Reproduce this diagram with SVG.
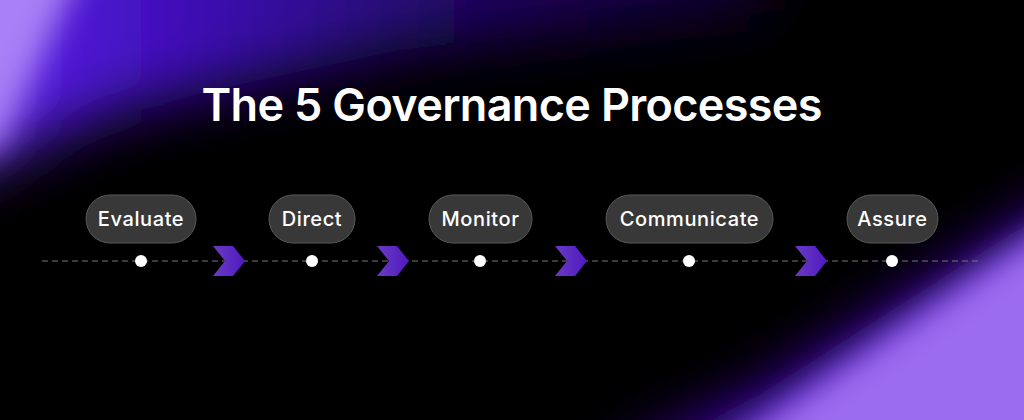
<svg xmlns="http://www.w3.org/2000/svg" width="1024" height="420" viewBox="0 0 1024 420">
<defs>
<filter id="blur" x="-50%" y="-50%" width="200%" height="200%"><feGaussianBlur stdDeviation="30"/></filter>
<filter id="blur2" x="-50%" y="-50%" width="200%" height="200%"><feGaussianBlur stdDeviation="16"/></filter>
<linearGradient id="topg" x1="0" y1="0" x2="1" y2="0">
<stop offset="0" stop-color="#7a48ee"/>
<stop offset="0.15" stop-color="#5018d8"/>
<stop offset="0.35" stop-color="#3a0cac"/>
<stop offset="0.65" stop-color="#1e0660"/>
<stop offset="1" stop-color="#120430"/>
</linearGradient>
<linearGradient id="chev" x1="0" y1="0" x2="1" y2="0">
<stop offset="0" stop-color="#6a3cc4"/>
<stop offset="1" stop-color="#5018c0"/>
</linearGradient>
<style>
.pill{fill:#383838;stroke:#5a5a5a;stroke-width:1}
.lbl{font-family:Inter,"Liberation Sans",sans-serif;font-weight:500;font-size:20px;letter-spacing:0.6px;fill:#ffffff;text-anchor:middle}
.dot{fill:#ffffff}
.ch{fill:url(#chev)}
</style>
</defs>
<rect width="1024" height="420" fill="#000"/>
<g id="glow-top" filter="url(#blur)">
<polygon points="-80,-80 775,-80 765,10 400,50 120,110 -80,190" fill="url(#topg)"/>
</g>
<g filter="url(#blur2)">
<polygon points="-60,-60 95,-60 0,145 -60,165" fill="#a980f6"/>
</g>
<g id="glow-bottom" filter="url(#blur)">
<polygon points="600,470 760,395 1080,190 1080,470" fill="#4410b8"/>
</g>
<g filter="url(#blur2)">
<polygon points="690,470 1080,205 1080,470" fill="#9c6cef"/>
</g>
<text x="512" y="121" font-family="Inter,'Liberation Sans',sans-serif" font-weight="600" font-size="45" fill="#fff" text-anchor="middle" textLength="621">The 5 Governance Processes</text>
<g id="connectors">
<line x1="42" y1="261" x2="982" y2="261" stroke="#777" stroke-width="1" stroke-dasharray="6 4"/>
<polygon class="ch" points="213,246 233,246 245,261 233,276 213,276 225,261"/>
<polygon class="ch" points="377,246 397,246 409,261 397,276 377,276 389,261"/>
<polygon class="ch" points="555,246 575,246 587,261 575,276 555,276 567,261"/>
<polygon class="ch" points="795,246 815,246 827,261 815,276 795,276 807,261"/>
</g>
<g id="evaluate"><rect class="pill" x="86" y="195" width="110" height="48" rx="24"/><text class="lbl" x="141" y="226">Evaluate</text><circle class="dot" cx="141" cy="261" r="6"/></g>
<g id="direct"><rect class="pill" x="269" y="195" width="86" height="48" rx="24"/><text class="lbl" x="312" y="226">Direct</text><circle class="dot" cx="312" cy="261" r="6"/></g>
<g id="monitor"><rect class="pill" x="429" y="195" width="103" height="48" rx="24"/><text class="lbl" x="480.5" y="226">Monitor</text><circle class="dot" cx="480" cy="261" r="6"/></g>
<g id="communicate"><rect class="pill" x="606" y="195" width="167" height="48" rx="24"/><text class="lbl" x="689.5" y="226">Communicate</text><circle class="dot" cx="689" cy="261" r="6"/></g>
<g id="assure"><rect class="pill" x="847" y="195" width="91" height="48" rx="24"/><text class="lbl" x="892.5" y="226">Assure</text><circle class="dot" cx="892" cy="261" r="6"/></g>
</svg>
